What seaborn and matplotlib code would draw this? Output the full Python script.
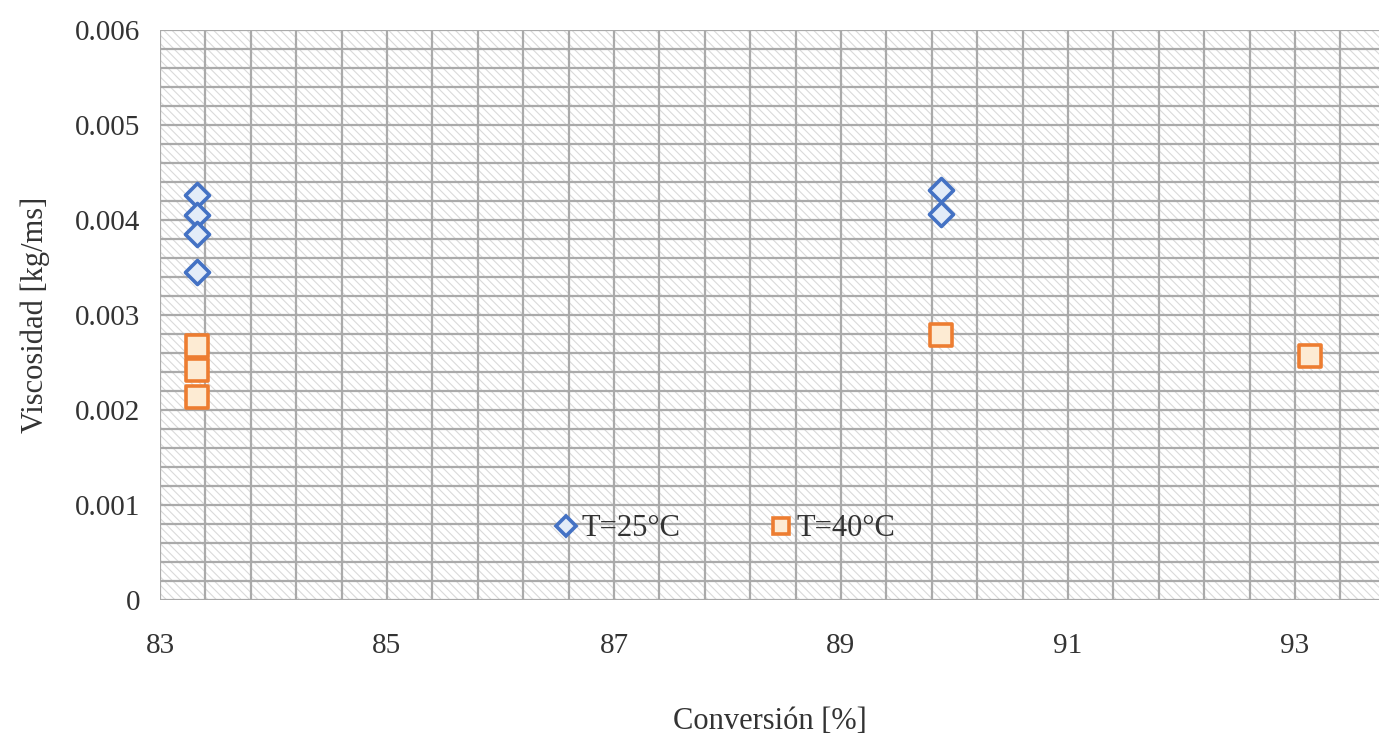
import numpy as np
import pandas as pd
import matplotlib.pyplot as plt
import seaborn as sns
from matplotlib.patches import Rectangle

# data
conv_25 = [83.33, 83.33, 83.33, 83.33, 89.88, 89.88]
visc_25 = [0.00426, 0.00405, 0.00385, 0.00345, 0.00432, 0.00407]
conv_40 = [83.33, 83.33, 83.33, 89.88, 93.13]
visc_40 = [0.00268, 0.00242, 0.00214, 0.00279, 0.00257]
labels = ['T=25°C', 'T=40°C']
x_ticks = [83, 85, 87, 89, 91, 93]
y_ticks = [0, 0.001, 0.002, 0.003, 0.004, 0.005, 0.006]
y_ticklabels = ['0', '0.001', '0.002', '0.003', '0.004', '0.005', '0.006']

sns.set_style("white")
plt.rcParams['font.family'] = ['Liberation Serif', 'DejaVu Serif']
plt.rcParams['hatch.linewidth'] = 0.8

fig = plt.figure(figsize=(13.79, 7.38), dpi=100)
ax = fig.add_axes([0.116, 0.187, 0.884, 0.772])

# hatched background like the original
ax.add_patch(Rectangle((0, 0), 1, 1, transform=ax.transAxes, facecolor='white',
                       edgecolor='#dadada', hatch='\\\\\\\\', lw=0, zorder=0))

blue, orange = '#4472C4', '#ED7D31'
sns.scatterplot(x=conv_25, y=visc_25, marker='D', s=150, color='#e3ecf8',
                edgecolor=blue, linewidth=2.6, ax=ax, zorder=5)
sns.scatterplot(x=conv_40, y=visc_40, marker='s', s=270, color='#fdebd3',
                edgecolor=orange, linewidth=2.6, ax=ax, zorder=5)

ax.set_xlim(83, 93.74)
ax.set_ylim(0, 0.006)
ax.set_xticks(x_ticks)
ax.set_xticks(np.arange(83, 93.8, 0.4), minor=True)
ax.set_yticks(y_ticks, y_ticklabels)
ax.set_yticks(np.arange(0, 0.0061, 0.0002), minor=True)
ax.grid(True, which='both', color='#aaaaaa', lw=1.6, zorder=1)
ax.set_axisbelow(True)
for s in ax.spines.values():
    s.set_visible(False)
ax.tick_params(axis='both', which='both', length=0, labelsize=21, colors='#333333')
ax.tick_params(axis='x', pad=24)
ax.tick_params(axis='y', pad=14)

ax.set_xlabel('Conversión [%]', fontsize=22, color='#333333', labelpad=34)
ax.set_ylabel('Viscosidad [kg/ms]', fontsize=22, color='#333333', labelpad=18)

h1 = plt.Line2D([], [], ls='none', marker='D', ms=10, mec=blue, mfc='#e3ecf8', mew=2.6)
h2 = plt.Line2D([], [], ls='none', marker='s', ms=12, mec=orange, mfc='#fdebd3', mew=2.6)
leg = ax.legend([h1, h2], labels, ncol=2, loc='center', bbox_to_anchor=(0.462, 0.125),
                frameon=False, fontsize=22, handletextpad=0.0, columnspacing=2.8,
                handlelength=1.0)
for t in leg.get_texts():
    t.set_color('#333333')

fig.savefig('out.png', dpi=100)
